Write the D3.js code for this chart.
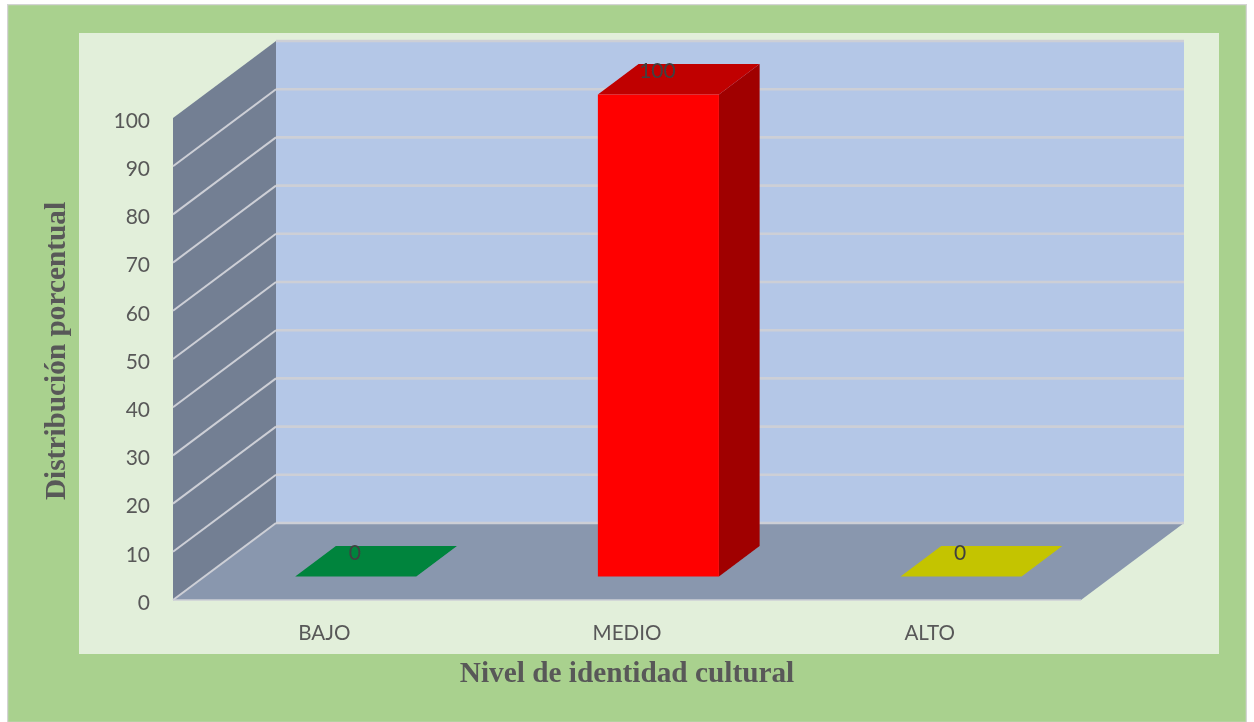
<!DOCTYPE html>
<html>
<head>
<meta charset="utf-8">
<script src="https://cdnjs.cloudflare.com/ajax/libs/d3/7.8.5/d3.min.js"></script>
<style>
html, body { margin: 0; padding: 0; background: #fff; overflow: hidden; }
svg { display: block; }
.axis text { font-family: Lato, sans-serif; fill: #595959; }
.axis path, .axis line { display: none; }
.title { font-family: "Liberation Serif", serif; font-weight: bold; fill: #595959; }
</style>
</head>
<body>
<div id="chart"></div>
<script>
// Data
var categories = ["BAJO", "MEDIO", "ALTO"];
var values = [0, 100, 0];
var yTicks = [0, 10, 20, 30, 40, 50, 60, 70, 80, 90, 100];
var frontColors = ["#00843d", "#ff0000", "#c4c400"];
var topColors = ["#00843d", "#c00000", "#c4c400"];
var sideColors = ["#00602c", "#a00000", "#909000"];

var width = 1254;
var height = 722;

var svg = d3.select("#chart")
    .append("svg")
    .attr("width", width)
    .attr("height", height);

// The reference is a slightly soft screenshot
svg.append("filter")
    .attr("id", "soft")
    .attr("x", 0).attr("y", 0).attr("width", 1).attr("height", 1)
    .append("feGaussianBlur")
    .attr("stdDeviation", 0.5);

var root = svg.append("g").attr("filter", "url(#soft)");

// Backgrounds
root.append("rect")
    .attr("x", 7.5).attr("y", 4.5)
    .attr("width", 1239).attr("height", 718)
    .attr("fill", "#a9d18e")
    .attr("stroke", "#d4d4d4")
    .attr("stroke-width", 1.5);
root.append("rect")
    .attr("x", 79).attr("y", 33)
    .attr("width", 1140).attr("height", 621)
    .attr("fill", "#e2efda");

// Scales, front plane of the 3d box
var x = d3.scaleBand()
    .domain(categories)
    .range([173, 1081])
    .paddingInner(0.6)
    .paddingOuter(0.3);
var y = d3.scaleLinear()
    .domain([0, 100])
    .range([600, 118]);
// depth 0 = front plane, depth 1 = back wall
var depthX = d3.scaleLinear().domain([0, 1]).range([0, 103]);
var depthY = d3.scaleLinear().domain([0, 1]).range([0, -77]);

function pt(px, v, z) {
    return [px + depthX(z), y(v) + depthY(z)];
}
var line = d3.line();
function poly(points) {
    return line(points) + "Z";
}

var x0 = x.range()[0];
var x1 = x.range()[1];

// Walls and floor
root.append("path")
    .attr("fill", "#b4c7e7")
    .attr("d", poly([pt(x0, 0, 1), pt(x1, 0, 1), pt(x1, 100, 1), pt(x0, 100, 1)]));
root.append("path")
    .attr("fill", "#737f93")
    .attr("d", poly([pt(x0, 0, 0), pt(x0, 0, 1), pt(x0, 100, 1), pt(x0, 100, 0)]));
root.append("path")
    .attr("fill", "#8997ae")
    .attr("d", poly([pt(x0, 0, 0), pt(x1, 0, 0), pt(x1, 0, 1), pt(x0, 0, 1)]));

// Gridlines, back wall then side wall
root.append("g")
    .attr("fill", "none")
    .attr("stroke", "#cdcfd6")
    .attr("stroke-width", 2.6)
    .selectAll("path")
    .data(yTicks)
    .enter().append("path")
    .attr("d", function (d) {
        return line([pt(x0, d, 1), pt(x1, d, 1)]);
    });
root.append("g")
    .attr("fill", "none")
    .attr("stroke", "#cdcfd6")
    .attr("stroke-width", 2)
    .selectAll("path")
    .data(yTicks.slice(0, 10))
    .enter().append("path")
    .attr("d", function (d) {
        return line([pt(x0, d, 0), pt(x0, d, 1)]);
    });
root.append("path")
    .attr("fill", "none")
    .attr("stroke", "#cdcfd6")
    .attr("stroke-width", 1.5)
    .attr("d", line([pt(x0, 0, 0), pt(x1, 0, 0)]));

// Bars
var zFront = 0.305;
var zBack = 0.7;
var bars = root.append("g")
    .selectAll("g")
    .data(categories)
    .enter().append("g");

bars.append("path")
    .attr("fill", function (d, i) { return sideColors[i]; })
    .attr("d", function (d, i) {
        var r = x(d) + x.bandwidth();
        return poly([pt(r, 0, zFront), pt(r, 0, zBack), pt(r, values[i], zBack), pt(r, values[i], zFront)]);
    });
bars.append("path")
    .attr("fill", function (d, i) { return topColors[i]; })
    .attr("d", function (d, i) {
        var l = x(d), r = l + x.bandwidth();
        return poly([pt(l, values[i], zFront), pt(r, values[i], zFront), pt(r, values[i], zBack), pt(l, values[i], zBack)]);
    });
bars.append("path")
    .attr("fill", function (d, i) { return frontColors[i]; })
    .attr("d", function (d, i) {
        var l = x(d), r = l + x.bandwidth();
        return poly([pt(l, 0, zFront), pt(r, 0, zFront), pt(r, values[i], zFront), pt(l, values[i], zFront)]);
    });

// Value labels
bars.append("text")
    .attr("x", function (d, i) { return pt(x(d) + x.bandwidth() / 2, values[i], zFront)[0] - 1; })
    .attr("y", function (d, i) { return pt(x(d), values[i], zFront)[1] - 16.5; })
    .attr("text-anchor", "middle")
    .attr("font-family", "Lato, sans-serif")
    .attr("font-size", 21)
    .attr("fill", "#404040")
    .text(function (d, i) { return values[i]; });

// Axes
root.append("g")
    .attr("class", "axis")
    .attr("transform", "translate(" + (x0 - 1) + ",2.5)")
    .call(d3.axisLeft(y).tickValues(yTicks).tickSize(0).tickPadding(22))
    .selectAll("text")
    .attr("font-size", 21);

root.append("g")
    .attr("class", "axis")
    .attr("transform", "translate(0,625)")
    .call(d3.axisBottom(x).tickSize(0).tickPadding(0))
    .selectAll("text")
    .attr("font-size", 20.6);

// Axis titles
root.append("text")
    .attr("class", "title")
    .attr("x", 627)
    .attr("y", 682)
    .attr("text-anchor", "middle")
    .attr("font-size", 29.3)
    .text("Nivel de identidad cultural");

root.append("text")
    .attr("class", "title")
    .attr("transform", "translate(65,351) rotate(-90)")
    .attr("text-anchor", "middle")
    .attr("font-size", 29.3)
    .text("Distribución porcentual");
</script>
</body>
</html>
